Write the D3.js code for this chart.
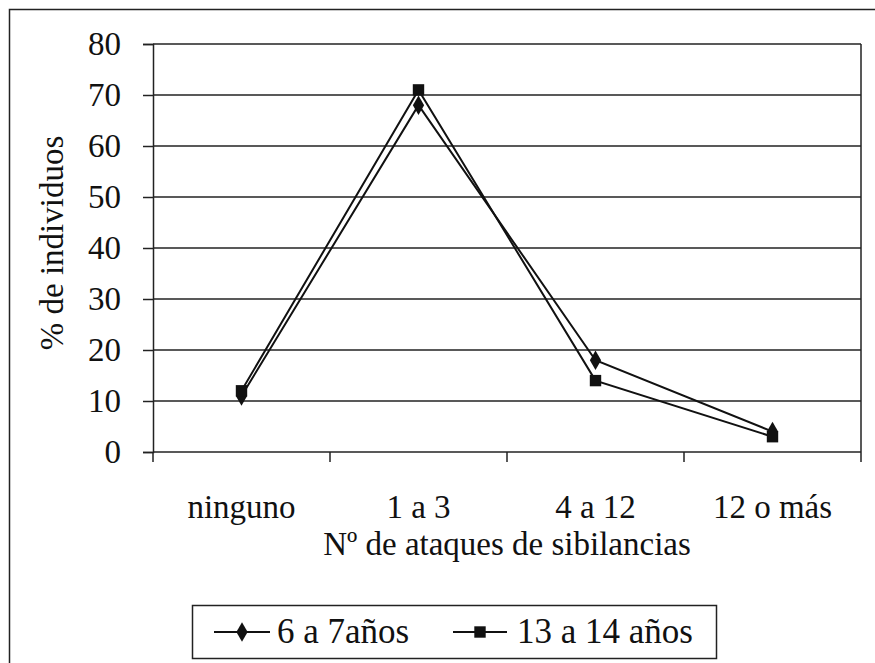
<!DOCTYPE html>
<html>
<head>
<meta charset="utf-8">
<script src="https://cdn.jsdelivr.net/npm/d3@7"></script>
</head>
<body style="margin:0">
<svg id="chart" width="875" height="663" style="font-family: serif"></svg>
<script>
// data
const categories = ["ninguno", "1 a 3", "4 a 12", "12 o más"];
const seriesNames = ["6 a 7años", "13 a 14 años"];
const ages6to7 = [11, 68, 18, 4];
const ages13to14 = [12, 71, 14, 3];
const yTicks = [0, 10, 20, 30, 40, 50, 60, 70, 80];

const FONT = "serif";
const FS = 33;

const svg = d3.select("#chart");
const plot = { left: 153, right: 861, top: 44, bottom: 452 };

// outer frame (runs off the right/bottom edge)
svg.append("rect")
    .attr("x", 9.5).attr("y", 9.5)
    .attr("width", 900).attr("height", 700)
    .attr("fill", "none").attr("stroke", "#222").attr("stroke-width", 1.5);

const x = d3.scaleBand().domain(categories).range([plot.left, plot.right]);
const y = d3.scaleLinear().domain([0, 80]).range([plot.bottom, plot.top]);

// gridlines
svg.append("g")
  .selectAll("line")
  .data(yTicks.filter(d => d > 0))
  .join("line")
    .attr("x1", plot.left).attr("x2", plot.right)
    .attr("y1", d => y(d)).attr("y2", d => y(d))
    .attr("stroke", "#222").attr("stroke-width", 1.5);

// right border of plot area
svg.append("line")
    .attr("x1", plot.right).attr("x2", plot.right)
    .attr("y1", plot.top).attr("y2", plot.bottom)
    .attr("stroke", "#222").attr("stroke-width", 1.5);

// y axis
const yAxis = svg.append("g")
    .attr("transform", `translate(${plot.left},0)`)
    .call(d3.axisLeft(y).tickValues(yTicks).tickSize(10).tickPadding(22));
yAxis.attr("font-family", FONT).attr("font-size", FS);
yAxis.select(".domain").attr("stroke", "#222").attr("stroke-width", 1.5);
yAxis.selectAll(".tick line").attr("stroke", "#222").attr("stroke-width", 1.5);
yAxis.selectAll("text")
    .style("font-family", FONT)
    .attr("fill", "#111");

// x axis: ticks at band boundaries
svg.append("line")
    .attr("x1", plot.left).attr("x2", plot.right)
    .attr("y1", plot.bottom).attr("y2", plot.bottom)
    .attr("stroke", "#222").attr("stroke-width", 1.5);
const bounds = categories.map(c => x(c)).concat([x.range()[1]]);
svg.append("g")
  .selectAll("line")
  .data(bounds)
  .join("line")
    .attr("x1", d => d).attr("x2", d => d)
    .attr("y1", plot.bottom).attr("y2", plot.bottom + 10)
    .attr("stroke", "#222").attr("stroke-width", 1.5);

svg.append("g")
  .selectAll("text")
  .data(categories)
  .join("text")
    .attr("x", d => x(d) + x.bandwidth() / 2)
    .attr("y", 518)
    .attr("text-anchor", "middle")
    .attr("font-size", FS).style("font-family", FONT).attr("fill", "#111")
    .text(d => d);

// axis titles
svg.append("text")
    .attr("x", (plot.left + plot.right) / 2)
    .attr("y", 555)
    .attr("text-anchor", "middle")
    .attr("font-size", FS).style("font-family", FONT).attr("fill", "#111")
    .text("Nº de ataques de sibilancias");

svg.append("text")
    .attr("transform", "translate(63, 243) rotate(-90)")
    .attr("text-anchor", "middle")
    .attr("font-size", FS).style("font-family", FONT).attr("fill", "#111")
    .text("% de individuos");

// lines and markers
const cx = d => x(d) + x.bandwidth() / 2;
const line = d3.line().x(d => cx(d.cat)).y(d => y(d.v));
const series = [
  { name: seriesNames[0], values: ages6to7, symbol: d3.symbolDiamond, size: 110 },
  { name: seriesNames[1], values: ages13to14, symbol: d3.symbolSquare, size: 130 }
];

series.forEach(s => {
  const pts = categories.map((c, i) => ({ cat: c, v: s.values[i] }));
  svg.append("path")
      .attr("d", line(pts))
      .attr("fill", "none").attr("stroke", "#111").attr("stroke-width", 2);
  svg.append("g")
    .selectAll("path")
    .data(pts)
    .join("path")
      .attr("transform", d => `translate(${cx(d.cat)},${y(d.v)})`)
      .attr("d", d3.symbol().type(s.symbol).size(s.size))
      .attr("fill", "#111");
});

// legend
const legend = svg.append("g");
legend.append("rect")
    .attr("x", 192.5).attr("y", 605.5)
    .attr("width", 524).attr("height", 53)
    .attr("fill", "#fff").attr("stroke", "#222").attr("stroke-width", 1.5);

const legendItems = [
  { s: series[0], x1: 214, x2: 270, tx: 277 },
  { s: series[1], x1: 453, x2: 507, tx: 517 }
];
legendItems.forEach(it => {
  legend.append("line")
      .attr("x1", it.x1).attr("x2", it.x2)
      .attr("y1", 632).attr("y2", 632)
      .attr("stroke", "#111").attr("stroke-width", 2);
  legend.append("path")
      .attr("transform", `translate(${(it.x1 + it.x2) / 2},632)`)
      .attr("d", d3.symbol().type(it.s.symbol).size(it.s.size))
      .attr("fill", "#111");
  legend.append("text")
      .attr("x", it.tx).attr("y", 643)
      .attr("font-size", 35).style("font-family", FONT).attr("fill", "#111")
      .text(it.s.name);
});
</script>
</body>
</html>
